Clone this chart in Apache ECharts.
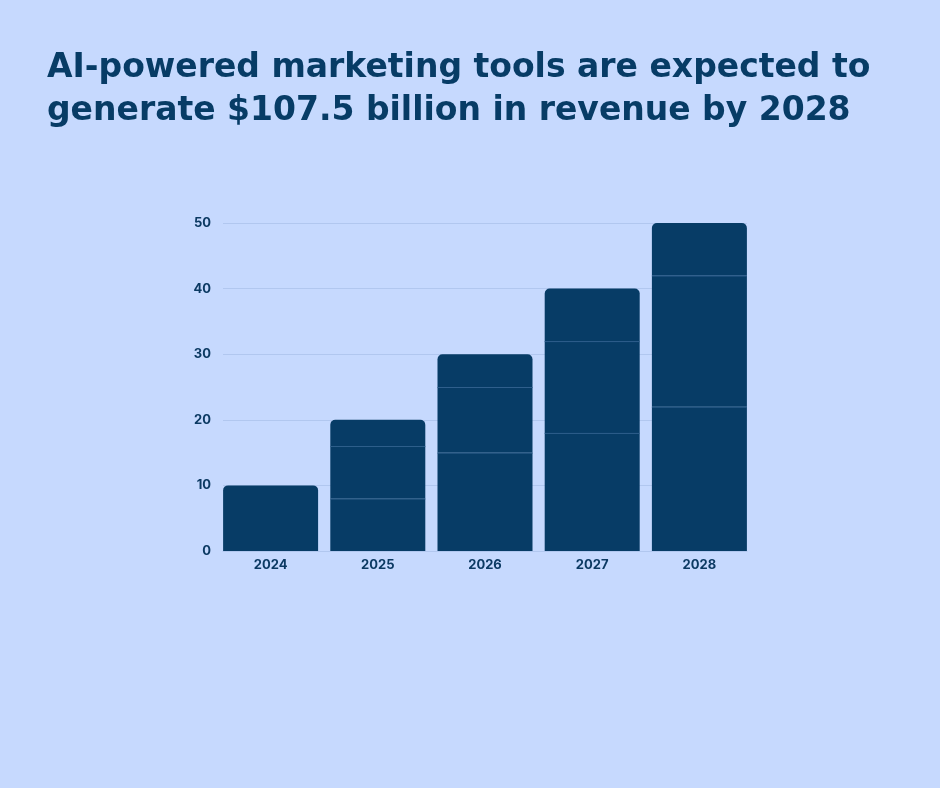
<!DOCTYPE html>
<html>
<head>
<meta charset="utf-8">
<script src="https://cdn.jsdelivr.net/npm/echarts@6/dist/echarts.min.js"></script>
<style>
html,body{margin:0;padding:0;background:#c6d9fe;}
#chart{width:940px;height:788px;}
</style>
</head>
<body>
<div id="chart"></div>
<script>
const titleText = 'AI-powered marketing tools are expected to\ngenerate $107.5 billion in revenue by 2028';
const categories = ['2024', '2025', '2026', '2027', '2028'];
const segment1 = [10, 8, 15, 18, 22];
const segment2 = [0, 8, 10, 14, 20];
const segment3 = [0, 4, 5, 8, 8];
const yTicks = [0, 10, 20, 30, 40, 50];

const segments = [segment1, segment2, segment3];
const barColor = '#073c66';
const sepColor = '#2f5f8c';
const lineColor = '#b1c7ef';
const labelStyle = { color: '#0c3a63', fontFamily: 'Inter', fontWeight: 'bold', fontSize: 13 };

function buildData(si) {
  return segments[si].map((v, i) => {
    let top = 0;
    segments.forEach((s, k) => { if (s[i] > 0) top = k; });
    return { value: v, itemStyle: { borderRadius: si === top ? [5, 5, 0, 0] : 0 } };
  });
}

const boundaries = [];
categories.forEach((c, i) => {
  let acc = 0;
  segments.forEach((s, k) => {
    acc += s[i];
    if (k < segments.length - 1 && segments[k + 1][i] > 0) boundaries.push([i, acc]);
  });
});

const series = segments.map((s, si) => ({
  type: 'bar',
  stack: 'total',
  barWidth: 95,
  xAxisIndex: 0,
  yAxisIndex: 0,
  data: buildData(si),
  itemStyle: { color: barColor },
  emphasis: { disabled: true },
  z: 2
}));

series.push({
  type: 'custom',
  xAxisIndex: 0,
  yAxisIndex: 0,
  data: boundaries,
  z: 5,
  silent: true,
  renderItem: function (params, api) {
    const p = api.coord([api.value(0), api.value(1)]);
    const half = 95 / 2;
    return {
      type: 'line',
      shape: { x1: p[0] - half, y1: p[1] + 0.5, x2: p[0] + half, y2: p[1] + 0.5 },
      style: { stroke: sepColor, lineWidth: 1 }
    };
  }
});

const yMin = yTicks[0], yMax = yTicks[yTicks.length - 1], yInt = yTicks[1] - yTicks[0];

const chart = echarts.init(document.getElementById('chart'));
chart.setOption({
  backgroundColor: '#c6d9fe',
  animation: false,
  title: {
    text: titleText,
    left: 42,
    top: 42,
    textStyle: {
      fontFamily: 'DejaVu Sans',
      fontWeight: 'bold',
      fontSize: 33,
      lineHeight: 43,
      color: '#073c66'
    }
  },
  grid: [
    { left: 217, right: 187, top: 223, bottom: 237 },
    { left: 223, right: 193, top: 223, bottom: 237 }
  ],
  xAxis: [
    {
      type: 'category',
      gridIndex: 0,
      data: categories,
      axisLine: { show: false },
      axisTick: { show: false },
      axisLabel: Object.assign({ margin: 8 }, labelStyle)
    },
    {
      type: 'value',
      gridIndex: 1,
      min: 0, max: 1,
      axisLine: { show: true, lineStyle: { color: lineColor } },
      axisTick: { show: false },
      axisLabel: { show: false },
      splitLine: { show: false }
    }
  ],
  yAxis: [
    {
      type: 'value',
      gridIndex: 0,
      min: yMin, max: yMax, interval: yInt,
      axisLine: { show: false },
      axisTick: { show: false },
      splitLine: { show: false },
      axisLabel: Object.assign({ margin: 6 }, labelStyle)
    },
    {
      type: 'value',
      gridIndex: 1,
      min: yMin, max: yMax, interval: yInt,
      axisLine: { show: false },
      axisTick: { show: false },
      axisLabel: { show: false },
      splitLine: { lineStyle: { color: lineColor } }
    }
  ],
  series: series
});
</script>
</body>
</html>
